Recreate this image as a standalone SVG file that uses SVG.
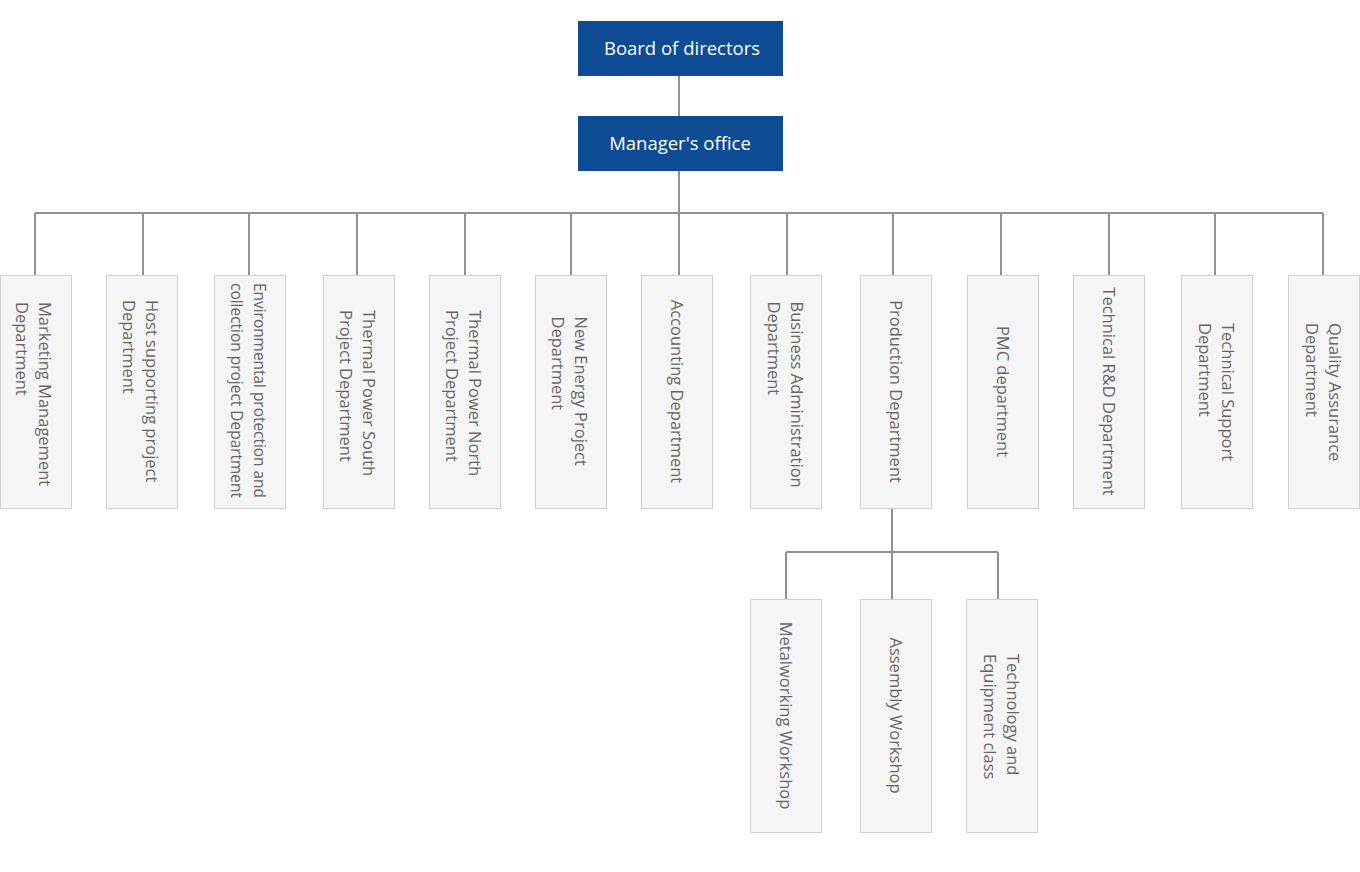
<svg xmlns="http://www.w3.org/2000/svg" width="1360" height="872" viewBox="0 0 1360 872">
<style>
.top rect{fill:#0d4c94}
.top text{fill:#ffffff;font-family:"Open Sans","Noto Sans",sans-serif;font-size:18.5px;text-anchor:middle;dominant-baseline:central}
.dept rect{fill:#f5f5f5;stroke:#cfcfcf;stroke-width:1}
.dept text{fill:#666666;font-family:"Open Sans","Noto Sans",sans-serif;font-size:16.5px;dominant-baseline:central}
.dept text.c{text-anchor:middle}
.conn path{fill:none;stroke:#919191;stroke-width:2}
</style>
<rect width="1360" height="872" fill="#ffffff"/>
<g class="conn" id="connectors">
<path d="M679 76V116M679 171V213M35 213H1323"/>
<path d="M35 213V275M143 213V275M249 213V275M357 213V275M465 213V275M571 213V275M679 213V275M787 213V275M893 213V275M1001 213V275M1109 213V275M1215 213V275M1323 213V275"/>
<path d="M892 508V552M786 552H998M786 552V599M892 552V599M998 552V599"/>
</g>
<g class="top" id="board"><rect x="578" y="21" width="205" height="55"/><text x="682" y="47.5">Board of directors</text></g>
<g class="top" id="manager"><rect x="578" y="116" width="205" height="55"/><text x="680" y="142.5">Manager's office</text></g>

<g class="dept" id="marketing"><rect x="0.5" y="275.5" width="71" height="233"/>
<text transform="translate(34.5,302) rotate(90)"><tspan x="0" y="-11.5">Marketing Management</tspan><tspan x="0" y="11.5">Department</tspan></text></g>
<g class="dept" id="host"><rect x="106.5" y="275.5" width="71" height="233"/>
<text transform="translate(141,300) rotate(90)"><tspan x="0" y="-11.5">Host supporting project</tspan><tspan x="0" y="11.5">Department</tspan></text></g>
<g class="dept" id="environmental"><rect x="214.5" y="275.5" width="71" height="233"/>
<text transform="translate(249,283) rotate(90)"><tspan x="0" y="-11.5" textLength="215" lengthAdjust="spacingAndGlyphs">Environmental protection and</tspan><tspan x="0" y="11.5" textLength="215" lengthAdjust="spacingAndGlyphs">collection project Department</tspan></text></g>
<g class="dept" id="thermal-south"><rect x="323.5" y="275.5" width="71" height="233"/>
<text transform="translate(358,310) rotate(90)"><tspan x="0" y="-11.5">Thermal Power South</tspan><tspan x="0" y="11.5">Project Department</tspan></text></g>
<g class="dept" id="thermal-north"><rect x="429.5" y="275.5" width="71" height="233"/>
<text transform="translate(464,310) rotate(90)"><tspan x="0" y="-11.5">Thermal Power North</tspan><tspan x="0" y="11.5">Project Department</tspan></text></g>
<g class="dept" id="new-energy"><rect x="535.5" y="275.5" width="71" height="233"/>
<text transform="translate(570,316.5) rotate(90)"><tspan x="0" y="-11.5">New Energy Project</tspan><tspan x="0" y="11.5">Department</tspan></text></g>
<g class="dept" id="accounting"><rect x="641.5" y="275.5" width="71" height="233"/>
<text class="c" transform="translate(677,391.5) rotate(90)" x="0" y="0">Accounting Department</text></g>
<g class="dept" id="business"><rect x="750.5" y="275.5" width="71" height="233"/>
<text transform="translate(786,301.5) rotate(90)"><tspan x="0" y="-11.5">Business Administration</tspan><tspan x="0" y="11.5">Department</tspan></text></g>
<g class="dept" id="production"><rect x="860.5" y="275.5" width="71" height="233"/>
<text class="c" transform="translate(896,391.5) rotate(90)" x="0" y="0">Production Department</text></g>
<g class="dept" id="pmc"><rect x="967.5" y="275.5" width="71" height="233"/>
<text class="c" transform="translate(1003,391.5) rotate(90)" x="0" y="0">PMC department</text></g>
<g class="dept" id="tech-rd"><rect x="1073.5" y="275.5" width="71" height="233"/>
<text class="c" transform="translate(1109,391.5) rotate(90)" x="0" y="0">Technical R&amp;D Department</text></g>
<g class="dept" id="tech-support"><rect x="1181.5" y="275.5" width="71" height="233"/>
<text transform="translate(1217,323) rotate(90)"><tspan x="0" y="-11.5">Technical Support</tspan><tspan x="0" y="11.5">Department</tspan></text></g>
<g class="dept" id="quality"><rect x="1288.5" y="275.5" width="71" height="233"/>
<text transform="translate(1324,323) rotate(90)"><tspan x="0" y="-11.5">Quality Assurance</tspan><tspan x="0" y="11.5">Department</tspan></text></g>

<g class="dept" id="metalworking"><rect x="750.5" y="599.5" width="71" height="233"/>
<text class="c" transform="translate(786,715.5) rotate(90)" x="0" y="0">Metalworking Workshop</text></g>
<g class="dept" id="assembly"><rect x="860.5" y="599.5" width="71" height="233"/>
<text class="c" transform="translate(896,715.5) rotate(90)" x="0" y="0">Assembly Workshop</text></g>
<g class="dept" id="technology"><rect x="966.5" y="599.5" width="71" height="233"/>
<text transform="translate(1002,654) rotate(90)"><tspan x="0" y="-11.5">Technology and</tspan><tspan x="0" y="11.5">Equipment class</tspan></text></g>
</svg>
